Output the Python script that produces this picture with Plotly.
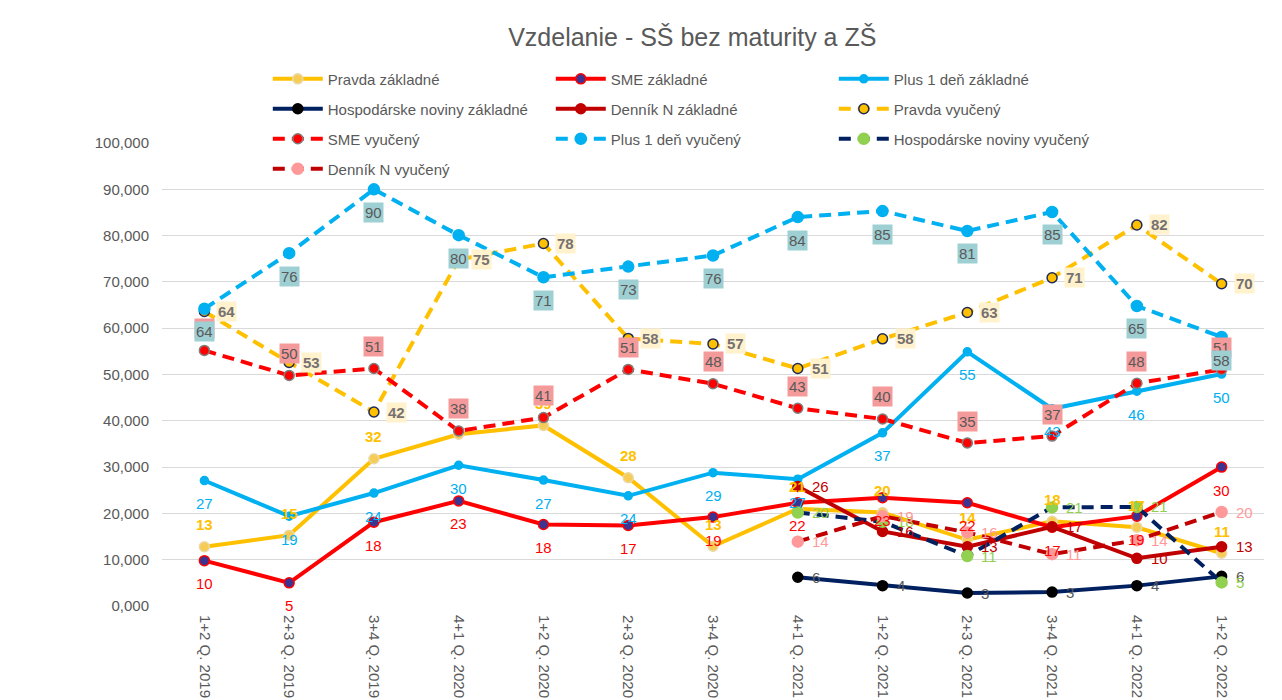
import plotly.graph_objects as go

categories = ["1+2 Q. 2019", "2+3 Q. 2019", "3+4 Q. 2019", "4+1 Q. 2020", "1+2 Q. 2020",
              "2+3 Q. 2020", "3+4 Q. 2020", "4+1 Q. 2021", "1+2 Q. 2021", "2+3 Q. 2021",
              "3+4 Q. 2021", "4+1 Q. 2022", "1+2 Q. 2022"]
N = None
pravda_zakladne = [12.8, 15.3, 31.8, 37.1, 39.0, 27.7, 12.9, 21.0, 20.2, 14.3, 18.3, 17.0, 11.4]
sme_zakladne = [9.8, 5.0, 18.1, 22.7, 17.6, 17.4, 19.2, 22.3, 23.4, 22.3, 17.0, 19.4, 30.0]
plus1_zakladne = [27.1, 19.4, 24.4, 30.4, 27.2, 23.8, 28.8, 27.4, 37.4, 54.9, 42.6, 46.4, 50.1]
hn_zakladne = [N, N, N, N, N, N, N, 6.2, 4.4, 2.8, 3.0, 4.4, 6.4]
dn_zakladne = [N, N, N, N, N, N, N, 25.8, 16.1, 12.8, 17.1, 10.3, 12.8]
pravda_vyuceny = [63.6, 52.6, 41.9, 74.8, 78.3, 57.8, 56.6, 51.3, 57.7, 63.4, 70.9, 82.3, 69.6]
sme_vyuceny = [55.2, 49.8, 51.3, 37.8, 40.7, 51.1, 48.0, 42.7, 40.4, 35.2, 36.7, 48.1, 51.1]
plus1_vyuceny = [64.2, 76.2, 90.0, 80.1, 71.0, 73.3, 75.7, 84.0, 85.3, 81.0, 85.1, 64.8, 58.1]
hn_vyuceny = [N, N, N, N, N, N, N, 20.2, 18.2, 10.8, 21.3, 21.4, 5.1]
dn_vyuceny = [N, N, N, N, N, N, N, 13.9, 19.4, 15.9, 11.2, 14.2, 20.3]

y_ticks = [0, 10, 20, 30, 40, 50, 60, 70, 80, 90, 100]
y_tick_labels = ["0,000", "10,000", "20,000", "30,000", "40,000", "50,000",
                 "60,000", "70,000", "80,000", "90,000", "100,000"]

FONT = "Liberation Sans, Arial, sans-serif"
GRAY = "#595959"
DASH = "12px,7px"

# name, values, line color, dash, marker fill, marker border, marker size, legend,
# label pos, label color, label bg, bold
series = [
    ("Pravda základné", pravda_zakladne, "#FFC000", "solid", "#F6CC55", "#EAD9A8", 10, "legend", "above", "#FFC000", None, True),
    ("SME základné", sme_zakladne, "#FF0000", "solid", "#3B3490", "#FF0000", 10, "legend", "below", "#FF0000", None, False),
    ("Plus 1 deň základné", plus1_zakladne, "#00B0F0", "solid", "#00B0F0", "#00B0F0", 8, "legend", "below", "#00B0F0", None, False),
    ("Hospodárske noviny základné", hn_zakladne, "#002060", "solid", "#000000", "#000000", 10, "legend2", "right", GRAY, None, False),
    ("Denník N základné", dn_zakladne, "#C00000", "solid", "#C00000", "#C00000", 10, "legend2", "right", "#C00000", None, False),
    ("Pravda vyučený", pravda_vyuceny, "#FFC000", DASH, "#FFC000", "#1F2A5A", 10, "legend2", "right", "#767171", "#FFF2CC", True),
    ("SME vyučený", sme_vyuceny, "#FF0000", DASH, "#FF0000", "#7F7F7F", 10, "legend3", "above", GRAY, "#F59A9A", False),
    ("Plus 1 deň vyučený", plus1_vyuceny, "#00B0F0", DASH, "#00B0F0", "#00B0F0", 11, "legend3", "below", GRAY, "#9ECFD3", False),
    ("Hospodárske noviny vyučený", hn_vyuceny, "#002060", DASH, "#92D050", "#92D050", 11, "legend3", "right", "#92D050", None, False),
    ("Denník N vyučený", dn_vyuceny, "#C00000", DASH, "#FF9999", "#FF9999", 11, "legend4", "right", "#FF9999", None, False),
]

fig = go.Figure()
annotations = []
for (name, vals, lc, dash, mfill, mline, msize, leg, pos, tcol, tbg, bold) in series:
    fig.add_trace(go.Scatter(
        x=categories, y=vals, name=name, mode="lines+markers", legend=leg,
        line=dict(color=lc, width=4, dash=dash),
        marker=dict(color=mfill, size=msize, line=dict(color=mline, width=1.5)),
        connectgaps=False,
    ))
    for c, v in zip(categories, vals):
        if v is None:
            continue
        txt = str(int(round(v)))
        if bold:
            txt = "<b>" + txt + "</b>"
        a = dict(x=c, y=v, xref="x", yref="y", text=txt, showarrow=False,
                 font=dict(family=FONT, size=15, color=tcol))
        if tbg:
            a["bgcolor"] = tbg
            a["borderpad"] = 1
        if pos == "above":
            a.update(yshift=22)
        elif pos == "below":
            a.update(yshift=-23)
        else:
            a.update(xanchor="left", xshift=12)
        annotations.append(a)

leg_common = dict(orientation="h", x=0.096, xanchor="left", yanchor="middle",
                  entrywidth=218, itemwidth=50, bgcolor="rgba(0,0,0,0)",
                  font=dict(family=FONT, size=15, color=GRAY))

fig.update_layout(
    width=1282, height=700,
    margin=dict(l=162, r=18, t=143, b=94, autoexpand=False),
    paper_bgcolor="white", plot_bgcolor="white",
    title=dict(text="Vzdelanie - SŠ bez maturity a ZŠ", x=0.54, xanchor="center",
               y=1 - 37 / 700, yanchor="middle",
               font=dict(family=FONT, size=25, color=GRAY)),
    legend=dict(y=1.138, **leg_common),
    legend2=dict(y=1.0734, **leg_common),
    legend3=dict(y=1.0086, **leg_common),
    legend4=dict(y=0.9438, **leg_common),
    annotations=annotations,
    xaxis=dict(type="category", categoryorder="array", categoryarray=categories,
               range=[-0.5, 12.5], tickangle=90, showgrid=False, showline=False,
               ticks="", ticklabelstandoff=8,
               tickfont=dict(family=FONT, size=15, color=GRAY)),
    yaxis=dict(range=[0, 100], tickvals=y_ticks, ticktext=y_tick_labels,
               showgrid=True, gridcolor="#D9D9D9", gridwidth=1.3, zeroline=False,
               showline=False, ticks="", ticklabelstandoff=12,
               tickfont=dict(family=FONT, size=15, color=GRAY)),
    showlegend=True,
    hovermode=False,
)

fig.write_html("out.html")
